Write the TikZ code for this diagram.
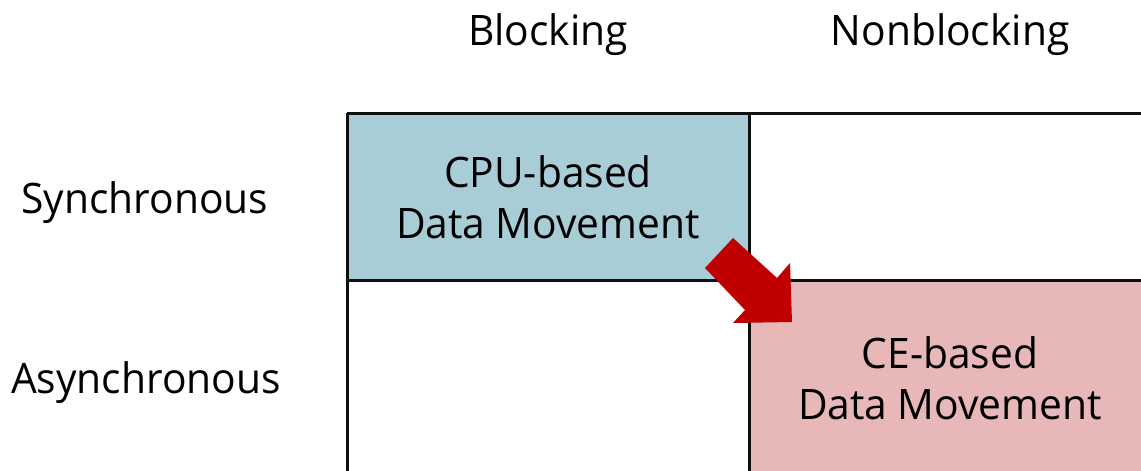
\documentclass[tikz,border=0pt]{standalone}
\usepackage{fontspec}
\setmainfont{Open Sans}[FakeStretch=0.97]
\definecolor{cpufill}{RGB}{169,205,214}
\definecolor{cefill}{RGB}{232,183,183}
\definecolor{arrowred}{RGB}{192,0,0}
\definecolor{gridline}{RGB}{15,15,15}
\tikzset{
  cell/.style={draw=none, inner sep=0pt, anchor=north west},
  lbl/.style={inner sep=0pt, anchor=base, font=\fontsize{42}{51}\selectfont, text=black},
  cellText/.style={lbl, align=center},
  gridstroke/.style={draw=gridline, line width=3pt},
}
\begin{document}
\begin{tikzpicture}[x=1pt, y=-1pt]
  \useasboundingbox (0,0) rectangle (1141,471);
  \clip (0,0) rectangle (1141,471);

  % shaded cells
  \node[cell, fill=cpufill, minimum width=402pt, minimum height=167pt] (cpu) at (347,113) {};
  \node[cell, fill=cefill, minimum width=402pt, minimum height=200pt] (ce) at (749,280) {};

  % grid
  \coordinate (gTL) at (347,113);
  \coordinate (gTR) at (1160,113);
  \coordinate (gML) at (347,280);
  \coordinate (gMR) at (1160,280);
  \coordinate (gC1) at (749,113);
  \coordinate (gB0) at (347,490);
  \coordinate (gB1) at (749,490);
  \draw[gridstroke] (gTL) -- (gTR);
  \draw[gridstroke] (gML) -- (gMR);
  \draw[gridstroke] (gTL) -- (gB0);
  \draw[gridstroke] (gC1) -- (gB1);

  % column and row headings
  \node[lbl] (colB) at (548,45) {Blocking};
  \node[lbl] (colN) at (950,45) {Nonblocking};
  \node[lbl] (rowS) at (145,213) {Synchronous};
  \node[lbl] (rowA) at (146,393) {Asynchronous};

  % cell contents (base anchor sits on the last line)
  \node[cellText] (cpuText) at (548,238) {CPU-based\\Data Movement};
  \node[cellText] (ceText) at (950,419) {CE-based\\Data Movement};

  % transition arrow
  \fill[arrowred] (733,238) -- (777,278) -- (790,263) -- (792,322)
                  -- (733,323) -- (745,310) -- (705,268) -- cycle;
\end{tikzpicture}
\end{document}
